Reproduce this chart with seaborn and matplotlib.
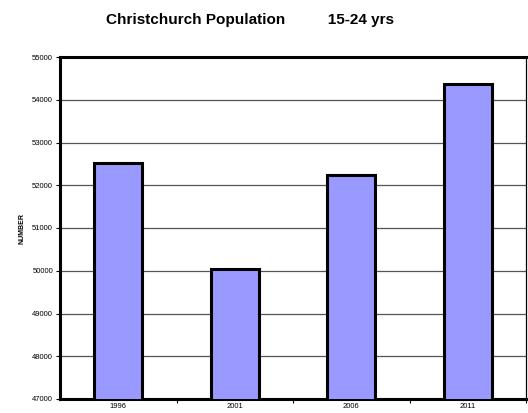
import matplotlib
matplotlib.use("Agg")
import matplotlib.pyplot as plt
import seaborn as sns
import pandas as pd

years = ["1996", "2001", "2006", "2011"]
population = [52510, 50050, 52250, 54360]
y_ticks = [47000, 48000, 49000, 50000, 51000, 52000, 53000, 54000, 55000]

sns.set_style("white")
plt.rcParams["font.family"] = ["Liberation Sans", "DejaVu Sans"]
plt.rcParams["text.color"] = "black"
plt.rcParams["axes.labelcolor"] = "black"
plt.rcParams["xtick.color"] = "black"
plt.rcParams["ytick.color"] = "black"

df = pd.DataFrame({"year": years, "population": population})

fig = plt.figure(figsize=(5.28, 4.13), dpi=100)
ax = fig.add_axes([60 / 528, 14 / 413, 466 / 528, 342 / 413])

sns.barplot(data=df, x="year", y="population", color="#9999FF", saturation=1,
            width=0.41, edgecolor="black", linewidth=2.2, ax=ax, zorder=3)

ax.set_ylim(y_ticks[0], y_ticks[-1])
ax.set_yticks(y_ticks)
ax.set_yticklabels([str(t) for t in y_ticks], fontsize=5.5)
ax.yaxis.grid(True, color="#555555", linewidth=0.9, zorder=0)
ax.set_axisbelow(True)

ax.set_xlim(-0.5, 3.5)
ax.set_xticks(range(len(years)))
ax.set_xticklabels(years, fontsize=5.5)
ax.tick_params(axis="x", length=0, pad=3)
ax.tick_params(axis="y", length=3, width=0.8, pad=2, direction="out", left=True)
# small separators between categories on the x axis
ax.set_xticks([0.5, 1.5, 2.5, 3.5], minor=True)
ax.tick_params(axis="x", which="minor", length=3, width=0.8, direction="out", bottom=True)

ax.set_xlabel("")
ax.set_ylabel("NUMBER", fontsize=5, fontweight="bold", labelpad=5)

for side in ["left", "bottom", "top"]:
    ax.spines[side].set_linewidth(2.2)
    ax.spines[side].set_color("black")
ax.spines["right"].set_linewidth(0.9)
ax.spines["right"].set_color("black")

fig.text(250 / 528, 1 - 20 / 413, "Christchurch Population          15-24 yrs",
         ha="center", va="center", fontsize=11, fontweight="bold")

fig.savefig("out.png", dpi=100)
